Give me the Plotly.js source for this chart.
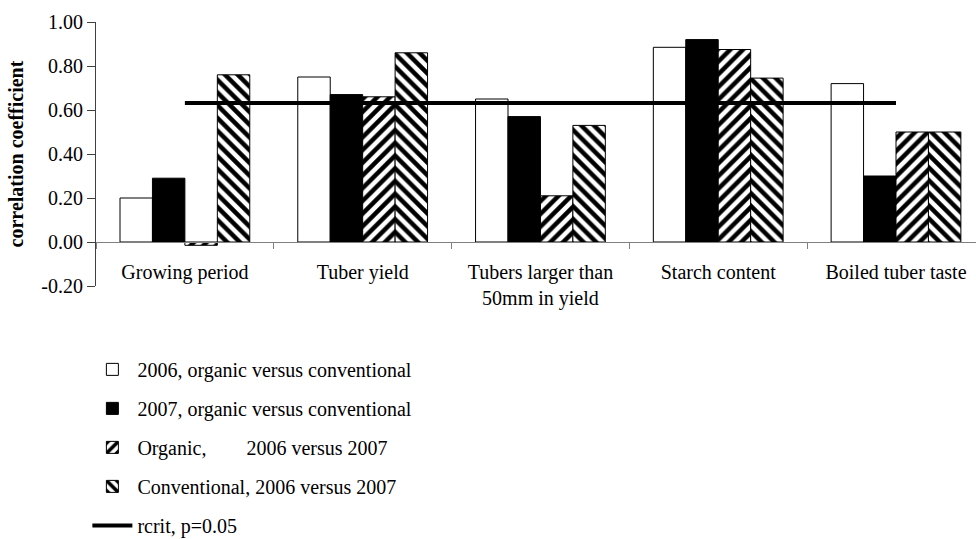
<!DOCTYPE html>
<html>
<head>
<meta charset="utf-8">
<script src="https://cdn.plot.ly/plotly-3.0.1.min.js"></script>
<style>html,body{margin:0;padding:0;background:#fff;}#chart{width:976px;height:539px;}</style>
</head>
<body>
<div id="chart"></div>
<script>
const categories = ["Growing period", "Tuber yield", "Tubers larger than<br>50mm in yield", "Starch content", "Boiled tuber taste"];
const seriesNames = [
  "2006, organic versus conventional",
  "2007, organic versus conventional",
  "Organic,\u00a0\u00a0\u00a0\u00a0\u00a0\u00a0\u00a0 2006 versus 2007",
  "Conventional, 2006 versus 2007"
];
const org2006vsConv = [0.20, 0.75, 0.65, 0.885, 0.72];
const org2007vsConv = [0.29, 0.67, 0.57, 0.92, 0.30];
const organic0607 = [-0.015, 0.66, 0.21, 0.875, 0.50];
const conventional0607 = [0.76, 0.86, 0.53, 0.745, 0.50];
const rcritName = "rcrit, p=0.05";
const rcrit = [0.632, 0.632, 0.632, 0.632, 0.632];
const yTicks = [-0.2, 0, 0.2, 0.4, 0.6, 0.8, 1.0];
const yTickText = ["-0.20", "0.00", "0.20", "0.40", "0.60", "0.80", "1.00"];

const FONT = "Liberation Serif";
const FS = 20;
const outline = {color: "#000", width: 1};

const traces = [
  {type: "bar", name: seriesNames[0], x: categories, y: org2006vsConv, legendgroup: "a",
   marker: {color: "#fff", line: outline}},
  {type: "bar", name: seriesNames[1], x: categories, y: org2007vsConv, legendgroup: "b",
   marker: {color: "#000", line: outline}},
  {type: "bar", name: seriesNames[2], x: categories, y: organic0607, legendgroup: "c",
   marker: {color: "#fff", line: outline,
     pattern: {shape: "/", fgcolor: "#000", bgcolor: "#fff", size: 9, solidity: 0.5, fillmode: "replace"}}},
  {type: "bar", name: seriesNames[3], x: categories, y: conventional0607, legendgroup: "d",
   marker: {color: "#fff", line: outline,
     pattern: {shape: "\\", fgcolor: "#000", bgcolor: "#fff", size: 9, solidity: 0.5, fillmode: "replace"}}},
  {type: "scatter", mode: "lines", name: rcritName, x: categories, y: rcrit, legendgroup: "e",
   line: {color: "#000", width: 4}}
];

const layout = {
  width: 976, height: 539,
  margin: {l: 96, r: 0, t: 22, b: 253, autoexpand: false},
  paper_bgcolor: "#fff", plot_bgcolor: "#fff",
  font: {family: FONT, size: FS, color: "#000"},
  barmode: "group", bargap: 0.27, bargroupgap: 0,
  showlegend: true,
  legend: {x: -0.0098, y: -0.242, xanchor: "left", yanchor: "top", traceorder: "grouped",
           tracegroupgap: 10, font: {family: FONT, size: FS}, bgcolor: "rgba(0,0,0,0)", itemwidth: 40},
  xaxis: {type: "category", range: [-0.5, 4.45], anchor: "free", position: 0.2 / 1.2,
          showline: true, linecolor: "#808080", linewidth: 1,
          ticks: "outside", tickson: "boundaries", ticklen: 6, tickcolor: "#808080",
          showgrid: false, zeroline: false, ticklabelstandoff: 12,
          tickfont: {family: FONT, size: FS}},
  yaxis: {range: [-0.2, 1.0], tickvals: yTicks, ticktext: yTickText,
          showline: true, linecolor: "#404040", linewidth: 1,
          ticks: "outside", ticklen: 8, tickcolor: "#404040",
          showgrid: false, zeroline: false,
          tickfont: {family: FONT, size: FS},
          title: {text: "<b>correlation coefficient</b>", font: {family: FONT, size: FS}, standoff: 12}}
};

Plotly.newPlot("chart", traces, layout, {displayModeBar: false, staticPlot: true});
</script>
</body>
</html>
